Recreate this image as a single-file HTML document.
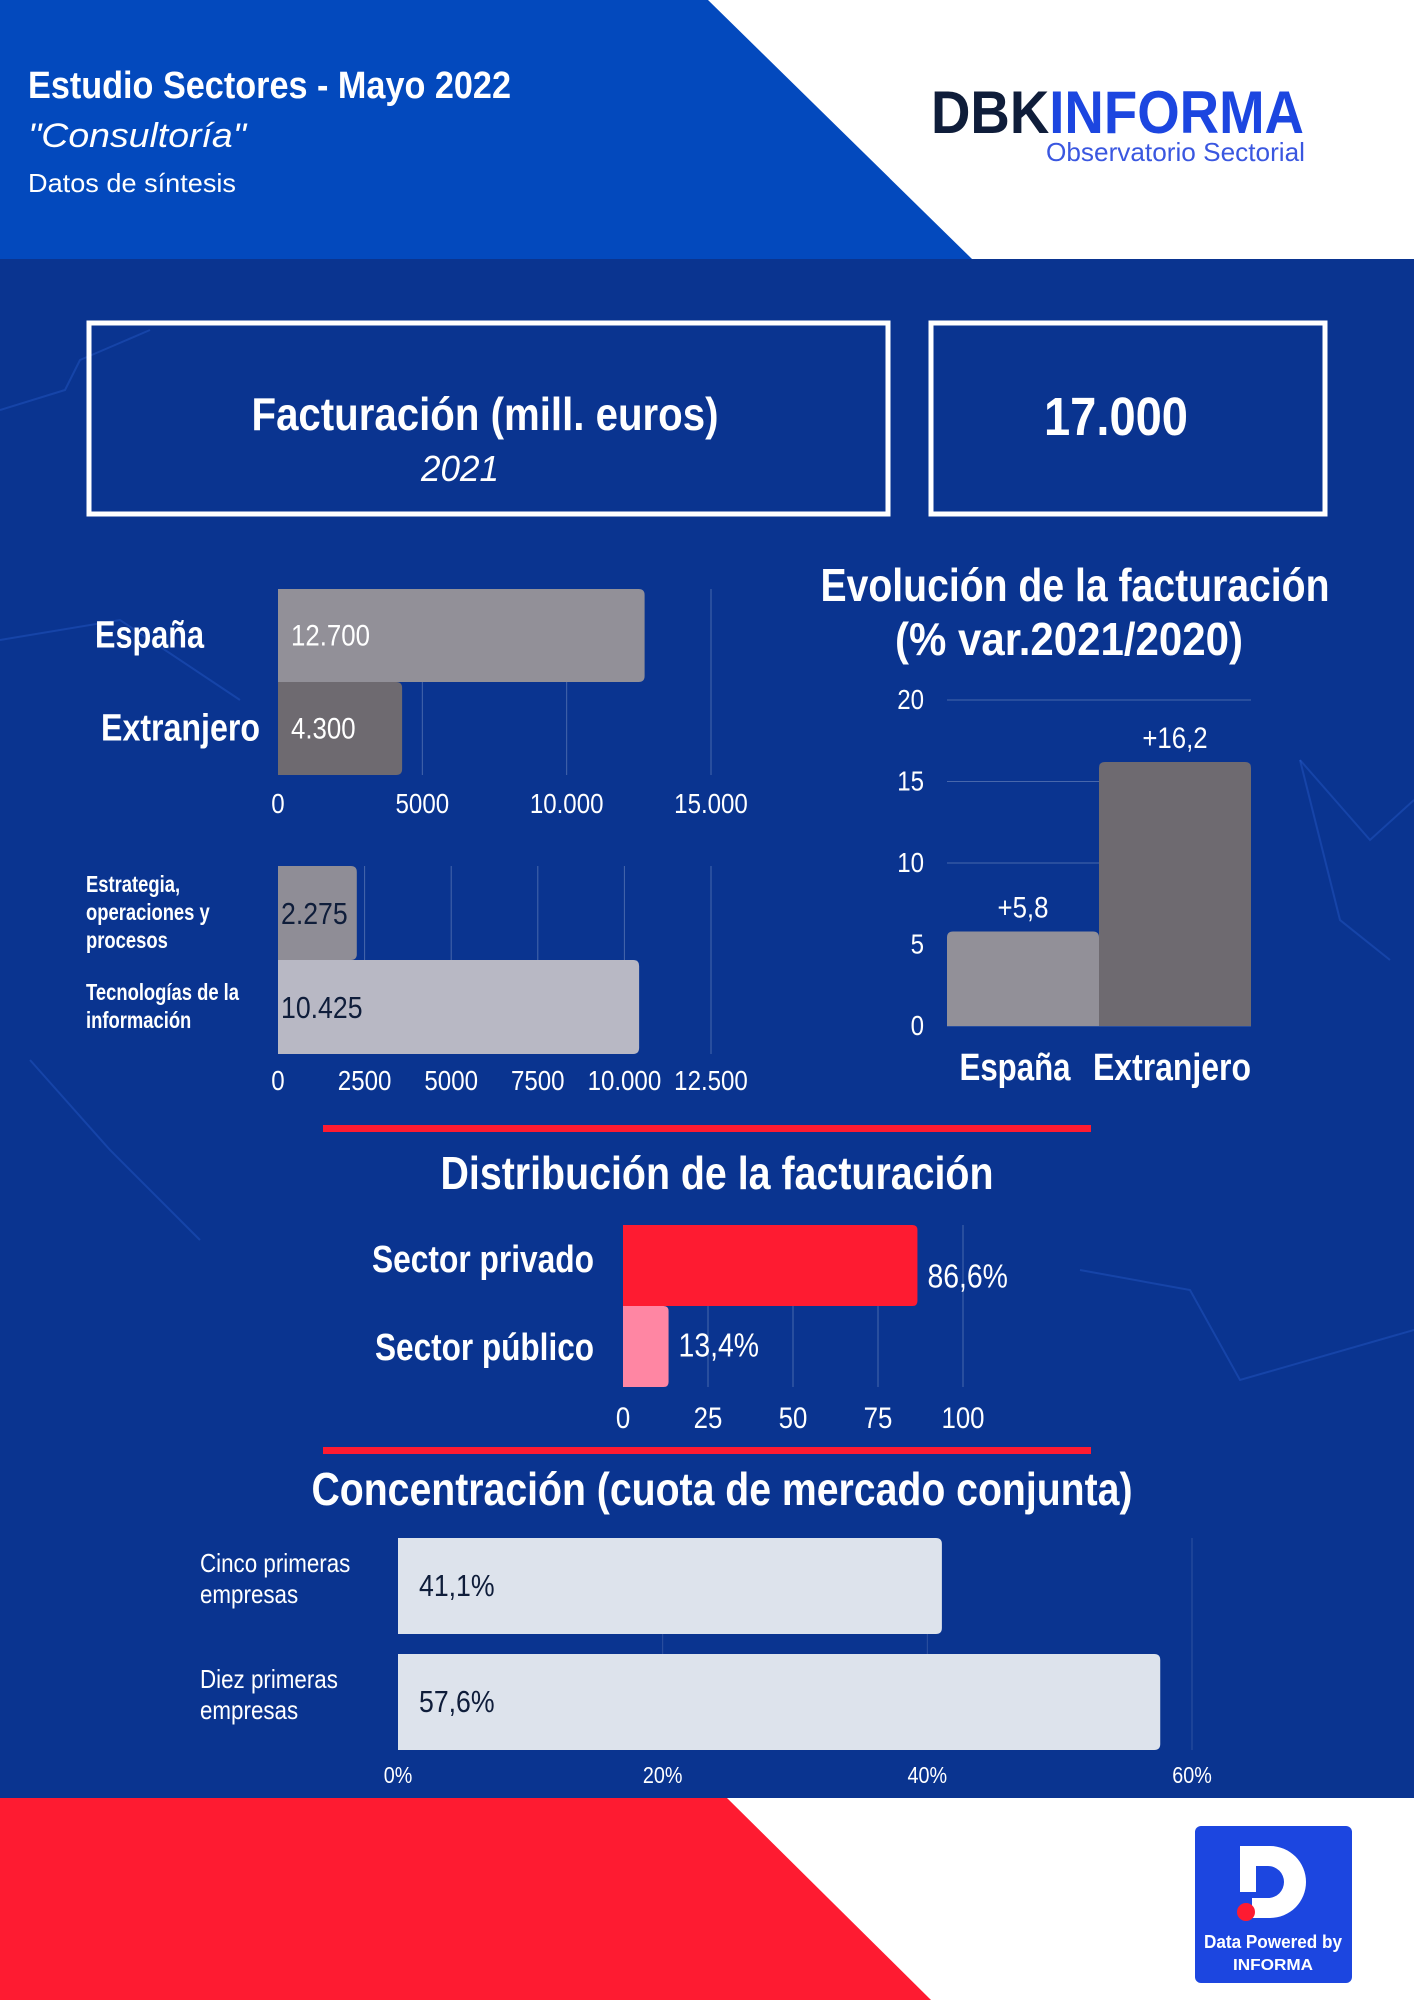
<!DOCTYPE html>
<html><head><meta charset="utf-8">
<style>
html,body{margin:0;padding:0;background:#fff;}
svg{display:block;}
text{font-family:"Liberation Sans Narrow","Liberation Sans",sans-serif;}
</style></head>
<body>
<svg id="chart" width="1414" height="2000" viewBox="0 0 1414 2000" xmlns="http://www.w3.org/2000/svg">
<rect x="0" y="0" width="1414" height="2000" fill="#ffffff"/>
<polygon points="0,0 708,0 972,259 0,259" fill="#0349bd"/>
<rect x="0" y="259" width="1414" height="1539" fill="#0a3490"/>
<g stroke="#2f63d6" stroke-opacity="0.35" stroke-width="2" fill="none">
<polyline points="0,410 65,390 80,360 150,330"/>
<polyline points="1300,760 1370,840 1414,800"/>
<polyline points="1300,760 1340,920 1390,960"/>
<polyline points="1080,1270 1190,1290 1240,1380 1414,1330"/>
<polyline points="0,640 120,620 240,700"/>
<polyline points="30,1060 110,1150 200,1240"/>
</g>
<polygon points="0,1798 727,1798 931,2000 0,2000" fill="#fe1b31"/>

<text data-w="483" x="28" y="98" fill="#fff" font-size="38" font-weight="bold">Estudio Sectores - Mayo 2022</text>
<text data-w="218" x="28" y="147" fill="#fff" font-size="34" font-style="italic">"Consultoría"</text>
<text data-w="208" x="28" y="192" fill="#fff" font-size="26">Datos de síntesis</text>

<g>
<text data-w="373" x="931" y="133" font-size="60" font-weight="bold" fill="#0f1d3a">DBK<tspan fill="#1c46e0">INFORMA</tspan></text>
<text data-w="259" x="1305" y="161" text-anchor="end" font-size="26" fill="#3a57e0">Observatorio Sectorial</text>
</g>

<rect x="89" y="323" width="799" height="191" fill="none" stroke="#fff" stroke-width="5"/>
<text data-w="467" x="485" y="430" text-anchor="middle" fill="#fff" font-size="46" font-weight="bold">Facturación (mill. euros)</text>
<text data-w="78" x="460" y="481" text-anchor="middle" fill="#fff" font-size="36" font-style="italic">2021</text>
<rect x="931" y="323" width="394" height="191" fill="none" stroke="#fff" stroke-width="5"/>
<text data-w="144" x="1116" y="435" text-anchor="middle" fill="#fff" font-size="54" font-weight="bold">17.000</text>

<text data-w="509" x="1075" y="601" text-anchor="middle" fill="#fff" font-size="46" font-weight="bold">Evolución de la facturación</text>
<text data-w="348" x="1069" y="655" text-anchor="middle" fill="#fff" font-size="46" font-weight="bold">(% var.2021/2020)</text>

<rect x="323" y="1125" width="768" height="7" fill="#fe1b31"/>
<text data-w="553" x="717" y="1189" text-anchor="middle" fill="#fff" font-size="46" font-weight="bold">Distribución de la facturación</text>
<rect x="323" y="1447" width="768" height="7" fill="#fe1b31"/>
<text data-w="821" x="722" y="1505" text-anchor="middle" fill="#fff" font-size="46" font-weight="bold">Concentración (cuota de mercado conjunta)</text>

<g>
<rect x="1195" y="1826" width="157" height="157" rx="6" fill="#1c46e0"/>
<path d="M1240 1846 h30 a36 36 0 0 1 0 72 h-18 v-20 h16 a16 16 0 0 0 0 -32 h-12 v26 h-16 z" fill="#fff"/>
<circle cx="1246" cy="1912" r="9" fill="#fe1b31"/>
<text data-w="138" x="1273" y="1948" text-anchor="middle" font-size="18" font-weight="bold" fill="#fff">Data Powered by</text>
<text data-w="80" x="1273" y="1970" text-anchor="middle" font-size="16" font-weight="bold" fill="#fff">INFORMA</text>
</g>
<g id="charts"></g>
</svg>
<script>
// Chart 1: revenue by market
const c1Cats = ["España", "Extranjero"];
const c1Vals = [12700, 4300];
const c1Labels = ["12.700", "4.300"];
const c1Ticks = [0, 5000, 10000, 15000];
const c1TickLabels = ["0", "5000", "10.000", "15.000"];
// Chart 2: revenue by activity
const c2Cats = [["Estrategia,", "operaciones y", "procesos"], ["Tecnologías de la", "información"]];
const c2Vals = [2275, 10425];
const c2Labels = ["2.275", "10.425"];
const c2Ticks = [0, 2500, 5000, 7500, 10000, 12500];
const c2TickLabels = ["0", "2500", "5000", "7500", "10.000", "12.500"];
// Chart 3: evolution
const c3Cats = ["España", "Extranjero"];
const c3Vals = [5.8, 16.2];
const c3Labels = ["+5,8", "+16,2"];
const c3Ticks = [0, 5, 10, 15, 20];
// Chart 4: distribution
const c4Cats = ["Sector privado", "Sector público"];
const c4Vals = [86.6, 13.4];
const c4Labels = ["86,6%", "13,4%"];
const c4Ticks = [0, 25, 50, 75, 100];
// Chart 5: concentration
const c5Cats = [["Cinco primeras", "empresas"], ["Diez primeras", "empresas"]];
const c5Vals = [41.1, 57.6];
const c5Labels = ["41,1%", "57,6%"];
const c5Ticks = [0, 20, 40, 60];
const c5TickLabels = ["0%", "20%", "40%", "60%"];

const NS = "http://www.w3.org/2000/svg";
const root = document.getElementById("charts");
function mk(tag, attrs, parent, txt) {
  const e = document.createElementNS(NS, tag);
  for (const k in attrs) e.setAttribute(k, attrs[k]);
  if (txt !== undefined) e.textContent = txt;
  (parent || root).appendChild(e);
  return e;
}
function lin(d0, d1, r0, r1) { return v => r0 + (v - d0) / (d1 - d0) * (r1 - r0); }

// ---- Chart 1
(function () {
  const g = mk("g", {});  
  const x = lin(0, 15000, 278, 711);
  const top = 589, bh = 93;
  c1Ticks.forEach((t, i) => {
    if (i > 0) { const l = mk("line", {x1: x(t), x2: x(t), y1: top, y2: top + 2 * bh, stroke: "#ffffff", "stroke-opacity": 0.25, "stroke-width": 1}, g);   }
    const tl = mk("text", {x: x(t), y: 813, "text-anchor": "middle", fill: "#fff", "font-size": 28}, g, c1TickLabels[i]);
     
  });
  const cols = ["#929098", "#6e6a70"];
  c1Vals.forEach((v, i) => {
    const y = top + i * bh;
    const r = mk("path", {d: `M${x(0)} ${y} H${x(v) - 6} Q${x(v)} ${y} ${x(v)} ${y + 6} V${y + bh - 6} Q${x(v)} ${y + bh} ${x(v) - 6} ${y + bh} H${x(0)} Z`, fill: cols[i]}, g);
     
    const vl = mk("text", {x: x(0) + 13, y: y + bh / 2 + 10, fill: "#fff", "font-size": 30}, g, c1Labels[i]);
     
    const cl = mk("text", {x: i === 0 ? 95 : 101, y: y + bh / 2 + 12, fill: "#fff", "font-size": 38, "font-weight": "bold", "data-w": i === 0 ? 109 : 159}, g, c1Cats[i]);
     
  });
})();

// ---- Chart 2
(function () {
  const g = mk("g", {});  
  const x = lin(0, 12500, 278, 711);
  const top = 866, bh = 94;
  c2Ticks.forEach((t, i) => {
    if (i > 0) { const l = mk("line", {x1: x(t), x2: x(t), y1: top, y2: top + 2 * bh, stroke: "#ffffff", "stroke-opacity": 0.25, "stroke-width": 1}, g);   }
    const tl = mk("text", {x: x(t), y: 1090, "text-anchor": "middle", fill: "#fff", "font-size": 28}, g, c2TickLabels[i]);
     
  });
  const cols = ["#8f8d96", "#b8b8c4"];
  c2Vals.forEach((v, i) => {
    const y = top + i * bh;
    const r = mk("path", {d: `M${x(0)} ${y} H${x(v) - 6} Q${x(v)} ${y} ${x(v)} ${y + 6} V${y + bh - 6} Q${x(v)} ${y + bh} ${x(v) - 6} ${y + bh} H${x(0)} Z`, fill: cols[i]}, g);
     
    const vl = mk("text", {x: x(0) + 3, y: y + bh / 2 + 11, fill: "#0f1d3a", "font-size": 31}, g, c2Labels[i]);
     
    const lines = c2Cats[i];
    const y0 = y + bh / 2 - (lines.length - 1) * 14 + 7;
    lines.forEach((ln, j) => {
      const cl = mk("text", {x: 86, y: y0 + j * 28, fill: "#fff", "font-size": 23, "font-weight": "bold"}, g, ln);
       
    });
  });
})();

// ---- Chart 3
(function () {
  const g = mk("g", {});  
  const y = lin(0, 20, 1026, 700);
  const x0 = 947, bw = 152;
  c3Ticks.forEach(t => {
    const l = mk("line", {x1: x0, x2: x0 + 2 * bw, y1: y(t), y2: y(t), stroke: "#ffffff", "stroke-opacity": 0.25, "stroke-width": 1}, g);
     
    const tl = mk("text", {x: 924, y: y(t) + 9, "text-anchor": "end", fill: "#fff", "font-size": 28}, g, String(t));
     
  });
  const cols = ["#929098", "#6e6a70"];
  c3Vals.forEach((v, i) => {
    const x = x0 + i * bw;
    const r = mk("path", {d: `M${x} ${y(0)} V${y(v) + 6} Q${x} ${y(v)} ${x + 6} ${y(v)} H${x + bw - 6} Q${x + bw} ${y(v)} ${x + bw} ${y(v) + 6} V${y(0)} Z`, fill: cols[i]}, g);
     
    const vl = mk("text", {x: x + bw / 2, y: y(v) - 14, "text-anchor": "middle", fill: "#fff", "font-size": 30}, g, c3Labels[i]);
     
    const cl = mk("text", {x: i === 0 ? 1015 : 1172, y: 1080, "text-anchor": "middle", fill: "#fff", "font-size": 38, "font-weight": "bold", "data-w": i === 0 ? 111 : 158}, g, c3Cats[i]);
     
  });
})();

// ---- Chart 4
(function () {
  const g = mk("g", {});  
  const x = lin(0, 100, 623, 963);
  const top = 1225, bh = 81;
  c4Ticks.forEach((t, i) => {
    if (i > 0) { const l = mk("line", {x1: x(t), x2: x(t), y1: top, y2: top + 2 * bh, stroke: "#ffffff", "stroke-opacity": 0.25, "stroke-width": 1}, g);   }
    const tl = mk("text", {x: x(t), y: 1428, "text-anchor": "middle", fill: "#fff", "font-size": 30}, g, String(t));
     
  });
  const cols = ["#fe1b31", "#ff86a3"];
  c4Vals.forEach((v, i) => {
    const yy = top + i * bh;
    const r = mk("path", {d: `M${x(0)} ${yy} H${x(v) - 5} Q${x(v)} ${yy} ${x(v)} ${yy + 5} V${yy + bh - 5} Q${x(v)} ${yy + bh} ${x(v) - 5} ${yy + bh} H${x(0)} Z`, fill: cols[i]}, g);
     
    const vl = mk("text", {x: x(v) + 10, y: yy + bh / 2 + (i === 0 ? 22 : 10), fill: "#fff", "font-size": 33}, g, c4Labels[i]);
     
    const cl = mk("text", {x: 594, y: i === 0 ? 1272 : 1360, "text-anchor": "end", fill: "#fff", "font-size": 38, "font-weight": "bold", "data-w": i === 0 ? 222 : 219}, g, c4Cats[i]);
     
  });
})();

// ---- Chart 5
(function () {
  const g = mk("g", {});  
  const x = lin(0, 60, 398, 1192);
  const tops = [1538, 1654], bh = 96;
  c5Ticks.forEach((t, i) => {
    if (i > 0) { const l = mk("line", {x1: x(t), x2: x(t), y1: 1538, y2: 1750, stroke: "#ffffff", "stroke-opacity": 0.15, "stroke-width": 1}, g);   }
    const tl = mk("text", {x: x(t), y: 1783, "text-anchor": "middle", fill: "#fff", "font-size": 23}, g, c5TickLabels[i]);
     
  });
  c5Vals.forEach((v, i) => {
    const yy = tops[i];
    const r = mk("path", {d: `M${x(0)} ${yy} H${x(v) - 6} Q${x(v)} ${yy} ${x(v)} ${yy + 6} V${yy + bh - 6} Q${x(v)} ${yy + bh} ${x(v) - 6} ${yy + bh} H${x(0)} Z`, fill: "#dde3ec"}, g);
     
    const vl = mk("text", {x: x(0) + 21, y: yy + bh / 2 + 10, fill: "#0f1d3a", "font-size": 31}, g, c5Labels[i]);
     
    c5Cats[i].forEach((ln, j) => {
      const cl = mk("text", {x: 200, y: yy + 34 + j * 31, fill: "#fff", "font-size": 26}, g, ln);
       
    });
  });
})();

// condense text to mimic a narrow typeface
document.querySelectorAll("#chart text").forEach(t => {
  const len = t.getComputedTextLength();
  if (!len) return;
  let w = t.getAttribute("data-w");
  if (!w) {
    const bold = t.getAttribute("font-weight") === "bold";
    w = len * (bold ? 0.8 : 0.86);
  }
  t.setAttribute("textLength", w);
  t.setAttribute("lengthAdjust", "spacingAndGlyphs");
});
</script>
</body></html>
